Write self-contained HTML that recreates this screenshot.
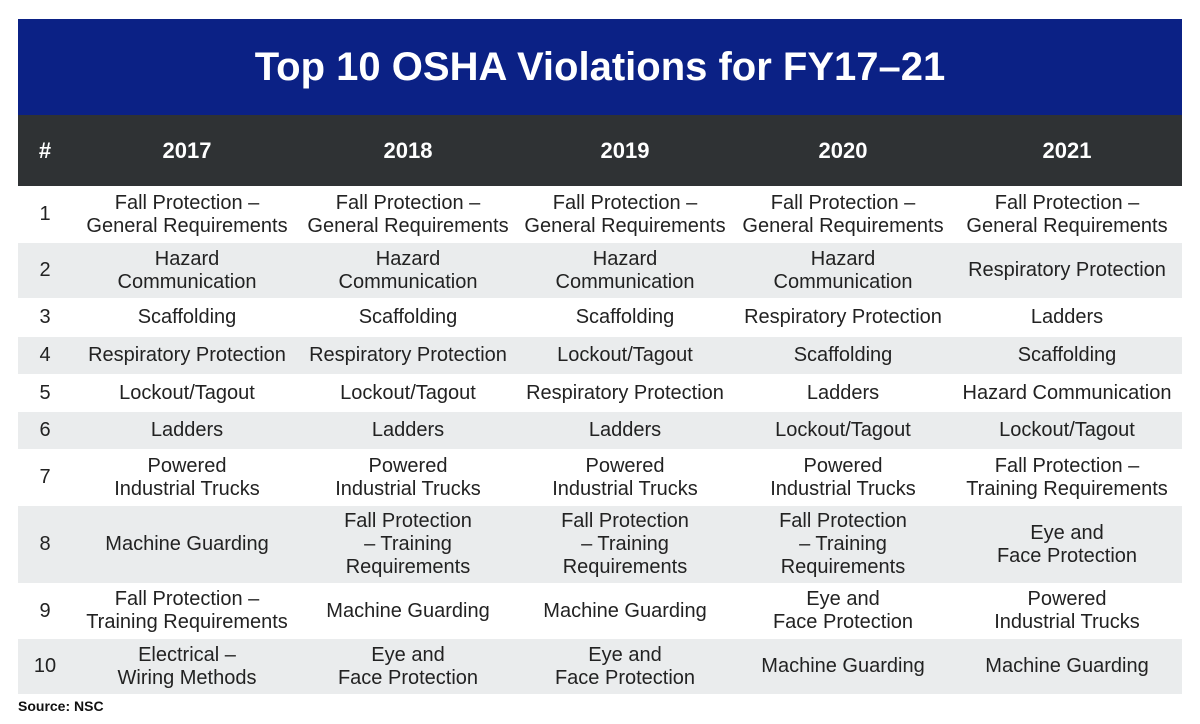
<!DOCTYPE html>
<html><head><meta charset="utf-8"><style>
body{margin:0;width:1200px;height:724px;background:#fff;position:relative;overflow:hidden;font-family:"Liberation Sans",sans-serif}
.title{position:absolute;left:18px;top:19px;width:1164px;height:96px;background:#0b2185;color:#fff;font-weight:bold;font-size:40px;text-align:center;line-height:96px}
.hdr{position:absolute;left:18px;top:115px;width:1164px;height:71px;background:#2f3234;color:#fff;font-weight:bold;font-size:22px}
.row{position:absolute;left:18px;width:1164px;color:#222;font-size:20px}
.c{position:absolute;top:0;height:100%;display:flex;align-items:center;justify-content:center;text-align:center;line-height:23px;transform:translateX(-50%);white-space:nowrap}
.g{background:#eaeced}
.src{position:absolute;left:18px;top:698px;font-size:14px;font-weight:bold;color:#111}
</style></head><body>
<div class="title">Top 10 OSHA Violations for FY17–21</div>
<div class="hdr">
<div class="c" style="left:27px">#</div><div class="c" style="left:169px">2017</div><div class="c" style="left:390px">2018</div><div class="c" style="left:607px">2019</div><div class="c" style="left:825px">2020</div><div class="c" style="left:1049px">2021</div>
</div>
<div class="row" style="top:186px;height:57px"><div class="c" style="left:27px">1</div><div class="c" style="left:169px">Fall Protection –<br>General Requirements</div><div class="c" style="left:390px">Fall Protection –<br>General Requirements</div><div class="c" style="left:607px">Fall Protection –<br>General Requirements</div><div class="c" style="left:825px">Fall Protection –<br>General Requirements</div><div class="c" style="left:1049px">Fall Protection –<br>General Requirements</div></div>
<div class="row g" style="top:243px;height:55px"><div class="c" style="left:27px">2</div><div class="c" style="left:169px">Hazard<br>Communication</div><div class="c" style="left:390px">Hazard<br>Communication</div><div class="c" style="left:607px">Hazard<br>Communication</div><div class="c" style="left:825px">Hazard<br>Communication</div><div class="c" style="left:1049px">Respiratory Protection</div></div>
<div class="row" style="top:298px;height:39px"><div class="c" style="left:27px">3</div><div class="c" style="left:169px">Scaffolding</div><div class="c" style="left:390px">Scaffolding</div><div class="c" style="left:607px">Scaffolding</div><div class="c" style="left:825px">Respiratory Protection</div><div class="c" style="left:1049px">Ladders</div></div>
<div class="row g" style="top:337px;height:37px"><div class="c" style="left:27px">4</div><div class="c" style="left:169px">Respiratory Protection</div><div class="c" style="left:390px">Respiratory Protection</div><div class="c" style="left:607px">Lockout/Tagout</div><div class="c" style="left:825px">Scaffolding</div><div class="c" style="left:1049px">Scaffolding</div></div>
<div class="row" style="top:374px;height:38px"><div class="c" style="left:27px">5</div><div class="c" style="left:169px">Lockout/Tagout</div><div class="c" style="left:390px">Lockout/Tagout</div><div class="c" style="left:607px">Respiratory Protection</div><div class="c" style="left:825px">Ladders</div><div class="c" style="left:1049px">Hazard Communication</div></div>
<div class="row g" style="top:412px;height:37px"><div class="c" style="left:27px">6</div><div class="c" style="left:169px">Ladders</div><div class="c" style="left:390px">Ladders</div><div class="c" style="left:607px">Ladders</div><div class="c" style="left:825px">Lockout/Tagout</div><div class="c" style="left:1049px">Lockout/Tagout</div></div>
<div class="row" style="top:449px;height:57px"><div class="c" style="left:27px">7</div><div class="c" style="left:169px">Powered<br>Industrial Trucks</div><div class="c" style="left:390px">Powered<br>Industrial Trucks</div><div class="c" style="left:607px">Powered<br>Industrial Trucks</div><div class="c" style="left:825px">Powered<br>Industrial Trucks</div><div class="c" style="left:1049px">Fall Protection –<br>Training Requirements</div></div>
<div class="row g" style="top:506px;height:77px"><div class="c" style="left:27px">8</div><div class="c" style="left:169px">Machine Guarding</div><div class="c" style="left:390px">Fall Protection<br>– Training<br>Requirements</div><div class="c" style="left:607px">Fall Protection<br>– Training<br>Requirements</div><div class="c" style="left:825px">Fall Protection<br>– Training<br>Requirements</div><div class="c" style="left:1049px">Eye and<br>Face Protection</div></div>
<div class="row" style="top:583px;height:56px"><div class="c" style="left:27px">9</div><div class="c" style="left:169px">Fall Protection –<br>Training Requirements</div><div class="c" style="left:390px">Machine Guarding</div><div class="c" style="left:607px">Machine Guarding</div><div class="c" style="left:825px">Eye and<br>Face Protection</div><div class="c" style="left:1049px">Powered<br>Industrial Trucks</div></div>
<div class="row g" style="top:639px;height:55px"><div class="c" style="left:27px">10</div><div class="c" style="left:169px">Electrical –<br>Wiring Methods</div><div class="c" style="left:390px">Eye and<br>Face Protection</div><div class="c" style="left:607px">Eye and<br>Face Protection</div><div class="c" style="left:825px">Machine Guarding</div><div class="c" style="left:1049px">Machine Guarding</div></div>
<div class="src">Source: NSC</div>
</body></html>
